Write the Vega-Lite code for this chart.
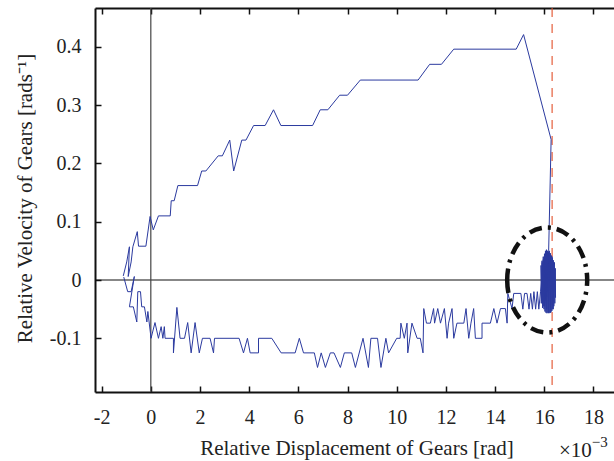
{
  "$schema": "https://vega.github.io/schema/vega-lite/v6.json",
  "width": 523,
  "height": 384,
  "autosize": {"type": "none"},
  "padding": {"left": 95, "top": 8, "right": 0, "bottom": 69},
  "background": "white",
  "config": {
    "view": {"stroke": null},
    "font": "Liberation Serif",
    "axis": {"grid": false, "labelFont": "Liberation Serif", "titleFont": "Liberation Serif", "labelFontSize": 20, "titleFontSize": 21, "titleFontWeight": "normal", "labelColor": "#222", "titleColor": "#222", "domainColor": "#111", "domainWidth": 2, "tickColor": "#111", "tickWidth": 1.5, "tickSize": -6}
  },
  "resolve": {"axis": {"x": "independent", "y": "independent"}},
  "layer": [
    {
      "data": {"values": [{}]},
      "mark": {"type": "rule", "color": "#111", "strokeWidth": 1.2},
      "encoding": {"y": {"datum": 0, "type": "quantitative", "scale": {"domain": [-0.1921, 0.4666], "nice": false, "zero": false}, "axis": null}}
    },
    {
      "data": {"values": [{}]},
      "mark": {"type": "rule", "color": "#444", "strokeWidth": 1.2},
      "encoding": {"x": {"datum": 0, "type": "quantitative", "scale": {"domain": [-2.27, 19], "nice": false, "zero": false},
        "axis": {"orient": "top", "values": [-2, 0, 2, 4, 6, 8, 10, 12, 14, 16, 18], "labels": false, "title": null}}}
    },
    {
      "data": {"values": [{}]},
      "mark": {"type": "rule", "color": "#e2502a", "strokeWidth": 1.1, "strokeDash": [9, 7]},
      "encoding": {"x": {"datum": 16.32, "type": "quantitative", "scale": {"domain": [-2.27, 19], "nice": false, "zero": false}, "axis": null}}
    },
    {
      "data": {"values": [
        {"i":1,"x":-1.12,"y":0.007},{"i":2,"x":-0.98,"y":0.031},{"i":3,"x":-0.87,"y":0.057},{"i":4,"x":-0.92,"y":0.006},{"i":5,"x":-0.8,"y":0.031},{"i":6,"x":-0.73,"y":0.057},{"i":7,"x":-0.55,"y":0.083},{"i":8,"x":-0.5,"y":0.058},{"i":9,"x":-0.2,"y":0.058},{"i":10,"x":-0.03,"y":0.109},
        {"i":11,"x":0.1,"y":0.086},{"i":12,"x":0.31,"y":0.11},{"i":13,"x":0.79,"y":0.11},{"i":14,"x":0.83,"y":0.136},{"i":15,"x":0.95,"y":0.136},{"i":16,"x":1.1,"y":0.162},{"i":17,"x":1.9,"y":0.162},{"i":18,"x":2.07,"y":0.187},{"i":19,"x":2.24,"y":0.187},{"i":20,"x":2.74,"y":0.213},
        {"i":21,"x":2.91,"y":0.213},{"i":22,"x":3.21,"y":0.24},{"i":23,"x":3.37,"y":0.187},{"i":24,"x":3.7,"y":0.24},{"i":25,"x":3.87,"y":0.24},{"i":26,"x":4.18,"y":0.265},{"i":27,"x":4.65,"y":0.265},{"i":28,"x":4.99,"y":0.292},{"i":29,"x":5.29,"y":0.265},{"i":30,"x":6.58,"y":0.265},
        {"i":31,"x":6.89,"y":0.292},{"i":32,"x":7.2,"y":0.292},{"i":33,"x":7.68,"y":0.317},{"i":34,"x":8.0,"y":0.317},{"i":35,"x":8.52,"y":0.343},{"i":36,"x":10.87,"y":0.343},{"i":37,"x":11.34,"y":0.37},{"i":38,"x":11.82,"y":0.37},{"i":39,"x":12.32,"y":0.396},{"i":40,"x":14.86,"y":0.396},
        {"i":41,"x":15.16,"y":0.421},{"i":42,"x":16.28,"y":0.241},{"i":43,"x":16.18,"y":0.051},
        {"i":44,"x":16.14,"y":-0.02},{"i":45,"x":16.12,"y":0.05},{"i":46,"x":16.1,"y":-0.03},{"i":47,"x":16.08,"y":0.048},{"i":48,"x":16.06,"y":-0.035},{"i":49,"x":16.04,"y":0.045},{"i":50,"x":16.02,"y":-0.04},
        {"i":51,"x":16.0,"y":0.04},{"i":52,"x":15.98,"y":-0.045},{"i":53,"x":15.96,"y":0.035},{"i":54,"x":15.94,"y":-0.04},{"i":55,"x":15.92,"y":0.03},{"i":56,"x":15.9,"y":-0.035},{"i":57,"x":15.87,"y":0.025},{"i":58,"x":15.88,"y":-0.04},{"i":59,"x":15.91,"y":0.033},{"i":60,"x":15.93,"y":-0.048},
        {"i":61,"x":15.96,"y":0.04},{"i":62,"x":15.99,"y":-0.05},{"i":63,"x":16.01,"y":0.045},{"i":64,"x":16.03,"y":-0.054},{"i":65,"x":16.05,"y":0.05},{"i":66,"x":16.07,"y":-0.056},{"i":67,"x":16.09,"y":0.052},{"i":68,"x":16.11,"y":-0.057},{"i":69,"x":16.13,"y":0.05},{"i":70,"x":16.15,"y":-0.056},
        {"i":71,"x":16.17,"y":0.048},{"i":72,"x":16.19,"y":-0.057},{"i":73,"x":16.21,"y":0.05},{"i":74,"x":16.23,"y":-0.056},{"i":75,"x":16.25,"y":0.046},{"i":76,"x":16.27,"y":-0.055},{"i":77,"x":16.29,"y":0.042},{"i":78,"x":16.31,"y":-0.053},{"i":79,"x":16.33,"y":0.038},{"i":80,"x":16.35,"y":-0.05},
        {"i":81,"x":16.37,"y":0.034},{"i":82,"x":16.39,"y":-0.045},{"i":83,"x":16.41,"y":0.03},{"i":84,"x":16.43,"y":-0.04},{"i":85,"x":16.45,"y":0.02},{"i":86,"x":16.46,"y":-0.03},{"i":87,"x":16.4,"y":0.03},{"i":88,"x":16.36,"y":-0.05},{"i":89,"x":16.32,"y":0.04},{"i":90,"x":16.26,"y":-0.056},
        {"i":91,"x":16.22,"y":0.045},{"i":92,"x":16.18,"y":-0.056},{"i":93,"x":16.14,"y":0.04},{"i":94,"x":16.1,"y":-0.05},{"i":95,"x":16.06,"y":0.035},{"i":96,"x":16.02,"y":-0.045},{"i":97,"x":15.98,"y":0.02},{"i":98,"x":15.94,"y":-0.03},{"i":99,"x":15.9,"y":0.0},{"i":100,"x":15.85,"y":-0.02},
        {"i":101,"x":15.78,"y":-0.05},{"i":102,"x":15.72,"y":-0.02},{"i":103,"x":15.65,"y":-0.05},{"i":104,"x":15.58,"y":-0.02},{"i":105,"x":15.52,"y":-0.05},{"i":106,"x":15.45,"y":-0.023},{"i":107,"x":15.38,"y":-0.05},{"i":108,"x":15.3,"y":-0.023},{"i":109,"x":15.2,"y":-0.023},{"i":110,"x":15.13,"y":-0.05},
        {"i":111,"x":15.05,"y":-0.023},{"i":112,"x":14.76,"y":-0.023},{"i":113,"x":14.69,"y":-0.049},{"i":114,"x":14.52,"y":-0.023},{"i":115,"x":14.49,"y":-0.074},{"i":116,"x":14.42,"y":-0.049},{"i":117,"x":14.22,"y":-0.049},{"i":118,"x":14.08,"y":-0.074},{"i":119,"x":13.95,"y":-0.049},{"i":120,"x":13.81,"y":-0.074},
        {"i":121,"x":13.47,"y":-0.074},{"i":122,"x":13.47,"y":-0.1},{"i":123,"x":13.27,"y":-0.1},{"i":124,"x":13.2,"y":-0.1},{"i":125,"x":13.13,"y":-0.049},{"i":126,"x":13.02,"y":-0.074},{"i":127,"x":12.93,"y":-0.1},{"i":128,"x":12.82,"y":-0.049},{"i":129,"x":12.73,"y":-0.074},{"i":130,"x":12.45,"y":-0.074},
        {"i":131,"x":12.32,"y":-0.1},{"i":132,"x":12.25,"y":-0.049},{"i":133,"x":12.11,"y":-0.074},{"i":134,"x":12.05,"y":-0.1},{"i":135,"x":11.94,"y":-0.049},{"i":136,"x":11.78,"y":-0.074},{"i":137,"x":11.67,"y":-0.049},{"i":138,"x":11.54,"y":-0.074},{"i":139,"x":11.5,"y":-0.049},{"i":140,"x":11.37,"y":-0.074},
        {"i":141,"x":11.21,"y":-0.074},{"i":142,"x":11.1,"y":-0.049},{"i":143,"x":11.07,"y":-0.125},{"i":144,"x":10.96,"y":-0.1},{"i":145,"x":10.83,"y":-0.1},{"i":146,"x":10.62,"y":-0.074},{"i":147,"x":10.45,"y":-0.125},{"i":148,"x":10.42,"y":-0.074},{"i":149,"x":10.31,"y":-0.1},{"i":150,"x":10.17,"y":-0.074},
        {"i":151,"x":10.14,"y":-0.1},{"i":152,"x":10.0,"y":-0.1},{"i":153,"x":9.67,"y":-0.125},{"i":154,"x":9.56,"y":-0.1},{"i":155,"x":9.36,"y":-0.15},{"i":156,"x":9.22,"y":-0.1},{"i":157,"x":8.95,"y":-0.1},{"i":158,"x":8.85,"y":-0.15},{"i":159,"x":8.63,"y":-0.1},{"i":160,"x":8.32,"y":-0.15},
        {"i":161,"x":8.17,"y":-0.125},{"i":162,"x":7.87,"y":-0.125},{"i":163,"x":7.71,"y":-0.15},{"i":164,"x":7.45,"y":-0.125},{"i":165,"x":7.3,"y":-0.125},{"i":166,"x":7.1,"y":-0.15},{"i":167,"x":6.93,"y":-0.125},{"i":168,"x":6.78,"y":-0.15},{"i":169,"x":6.65,"y":-0.125},{"i":170,"x":6.21,"y":-0.125},
        {"i":171,"x":6.04,"y":-0.1},{"i":172,"x":5.87,"y":-0.125},{"i":173,"x":5.3,"y":-0.125},{"i":174,"x":4.92,"y":-0.1},{"i":175,"x":4.38,"y":-0.1},{"i":176,"x":4.38,"y":-0.125},{"i":177,"x":4.04,"y":-0.125},{"i":178,"x":3.93,"y":-0.1},{"i":179,"x":3.77,"y":-0.125},{"i":180,"x":3.59,"y":-0.1},
        {"i":181,"x":2.59,"y":-0.1},{"i":182,"x":2.55,"y":-0.125},{"i":183,"x":2.41,"y":-0.1},{"i":184,"x":2.1,"y":-0.1},{"i":185,"x":1.97,"y":-0.125},{"i":186,"x":1.8,"y":-0.073},{"i":187,"x":1.64,"y":-0.125},{"i":188,"x":1.5,"y":-0.073},{"i":189,"x":1.37,"y":-0.1},{"i":190,"x":1.19,"y":-0.1},
        {"i":191,"x":1.06,"y":-0.047},{"i":192,"x":0.92,"y":-0.125},{"i":193,"x":0.92,"y":-0.1},{"i":194,"x":0.58,"y":-0.1},{"i":195,"x":0.55,"y":-0.08},{"i":196,"x":0.49,"y":-0.1},{"i":197,"x":0.42,"y":-0.08},{"i":198,"x":0.31,"y":-0.1},{"i":199,"x":0.17,"y":-0.073},{"i":200,"x":0.01,"y":-0.1},
        {"i":201,"x":-0.12,"y":-0.054},{"i":202,"x":-0.16,"y":-0.072},{"i":203,"x":-0.26,"y":-0.046},{"i":204,"x":-0.37,"y":-0.046},{"i":205,"x":-0.42,"y":-0.02},{"i":206,"x":-0.53,"y":-0.02},{"i":207,"x":-0.57,"y":-0.072},{"i":208,"x":-0.71,"y":-0.046},{"i":209,"x":-0.87,"y":-0.046},{"i":210,"x":-0.67,"y":0.006},
        {"i":211,"x":-0.8,"y":-0.02},{"i":212,"x":-0.94,"y":-0.02},{"i":213,"x":-1.1,"y":0.005}
      ]},
      "mark": {"type": "line", "color": "#2b3a9f", "strokeWidth": 1},
      "encoding": {
        "order": {"field": "i", "type": "quantitative"},
        "x": {"field": "x", "type": "quantitative", "scale": {"domain": [-2.27, 19], "nice": false, "zero": false},
          "axis": {"orient": "bottom", "values": [-2, 0, 2, 4, 6, 8, 10, 12, 14, 16, 18], "labelPadding": 21, "labelExpr": "replace(datum.label, '\u2212', '-')",
            "title": "Relative Displacement of Gears [rad]", "titleBaseline": "alphabetic", "titleY": 62}},
        "y": {"field": "y", "type": "quantitative", "scale": {"domain": [-0.1921, 0.4666], "nice": false, "zero": false},
          "axis": {"orient": "left", "values": [-0.1, 0, 0.1, 0.2, 0.3, 0.4], "format": "~g", "labelPadding": 20, "labelExpr": "replace(datum.label, '\u2212', '-')",
            "title": "Relative Velocity of Gears [rads\u207b\u00b9]", "titleX": -70, "titleY": 190, "titleBaseline": "middle", "titleAngle": -90}}
      }
    },
    {
      "data": {"values": [{}]},
      "mark": {"type": "point", "shape": "M -0.762 0 A 0.762 1 0 1 0 0.762 0 A 0.762 1 0 1 0 -0.762 0 Z", "size": 11025, "filled": false, "stroke": "#111", "strokeWidth": 4.5, "strokeDash": [13, 6, 3, 6], "opacity": 1},
      "encoding": {
        "x": {"datum": 16.12, "type": "quantitative", "scale": {"domain": [-2.27, 19], "nice": false, "zero": false}, "axis": null},
        "y": {"datum": 0.0, "type": "quantitative", "scale": {"domain": [-0.1921, 0.4666], "nice": false, "zero": false}, "axis": null}
      }
    },
    {
      "data": {"values": [{"t": "\u00d710"}]},
      "mark": {"type": "text", "align": "left", "baseline": "alphabetic", "fontSize": 21, "font": "Liberation Serif", "color": "#222"},
      "encoding": {
        "text": {"field": "t"},
        "x": {"datum": 16.6, "type": "quantitative", "scale": {"domain": [-2.27, 19], "nice": false, "zero": false}, "axis": null},
        "y": {"datum": -0.303, "type": "quantitative", "scale": {"domain": [-0.1921, 0.4666], "nice": false, "zero": false}, "axis": null}
      }
    },
    {
      "data": {"values": [{"t": "\u22123"}]},
      "mark": {"type": "text", "align": "left", "baseline": "alphabetic", "fontSize": 15, "font": "Liberation Serif", "color": "#222"},
      "encoding": {
        "text": {"field": "t"},
        "x": {"datum": 17.93, "type": "quantitative", "scale": {"domain": [-2.27, 19], "nice": false, "zero": false}, "axis": null},
        "y": {"datum": -0.287, "type": "quantitative", "scale": {"domain": [-0.1921, 0.4666], "nice": false, "zero": false}, "axis": null}
      }
    }
  ]
}
